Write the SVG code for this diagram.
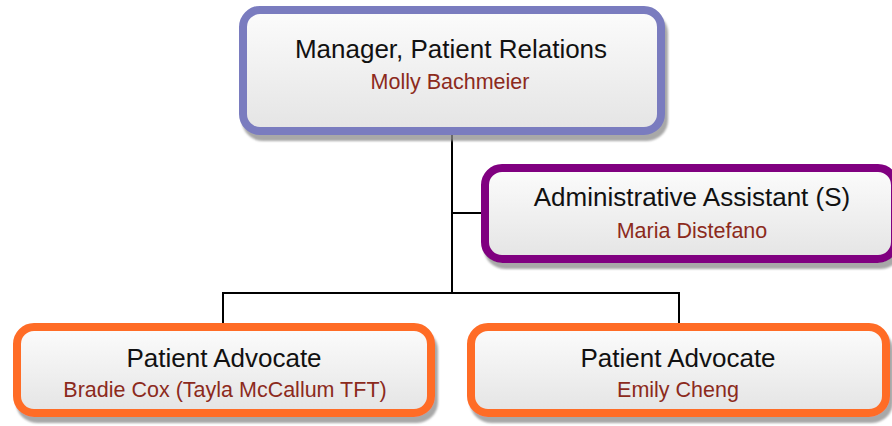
<svg xmlns="http://www.w3.org/2000/svg" width="892" height="426" viewBox="0 0 892 426">
<defs>
<linearGradient id="fillg" x1="0" y1="0" x2="0" y2="1">
<stop offset="0" stop-color="#fcfcfc"/>
<stop offset="1" stop-color="#e4e4e4"/>
</linearGradient>
<filter id="shadow" x="-5%" y="-10%" width="115%" height="130%">
<feDropShadow dx="3" dy="6" stdDeviation="1.2" flood-color="#8a8a8a" flood-opacity="0.75"/>
</filter>
</defs>
<style>
.box{fill:url(#fillg);stroke-width:8;filter:url(#shadow)}
.t{font-family:"Liberation Sans",Arial,sans-serif;font-size:26px;fill:#111;text-anchor:middle}
.s{font-family:"Liberation Sans",Arial,sans-serif;font-size:21.5px;fill:#8c2a1c;text-anchor:middle}
.conn{stroke:#000;stroke-width:2;fill:none}
</style>
<g id="connectors">
<path class="conn" d="M452 134 V293"/>
<path class="conn" d="M452 213 H482"/>
<path class="conn" d="M223 293 H679"/>
<path class="conn" d="M223 292 V324"/>
<path class="conn" d="M679 292 V324"/>
</g>
<g id="manager">
<rect class="box" x="243" y="10" width="418" height="121" rx="17" stroke="#7a7cbf"/>
<text class="t" x="451" y="58">Manager, Patient Relations</text>
<text class="s" x="450" y="89">Molly Bachmeier</text>
</g>
<g id="admin">
<rect class="box" x="485" y="168" width="410" height="91" rx="17" stroke="#800080"/>
<text class="t" x="692" y="206">Administrative Assistant (S)</text>
<text class="s" x="692" y="238">Maria Distefano</text>
</g>
<g id="advocate1">
<rect class="box" x="17" y="327" width="414" height="86" rx="17" stroke="#ff6c26"/>
<text class="t" x="224" y="367">Patient Advocate</text>
<text class="s" x="225" y="397">Bradie Cox (Tayla McCallum TFT)</text>
</g>
<g id="advocate2">
<rect class="box" x="471" y="327" width="415" height="86" rx="17" stroke="#ff6c26"/>
<text class="t" x="678" y="367">Patient Advocate</text>
<text class="s" x="678" y="397">Emily Cheng</text>
</g>
</svg>
